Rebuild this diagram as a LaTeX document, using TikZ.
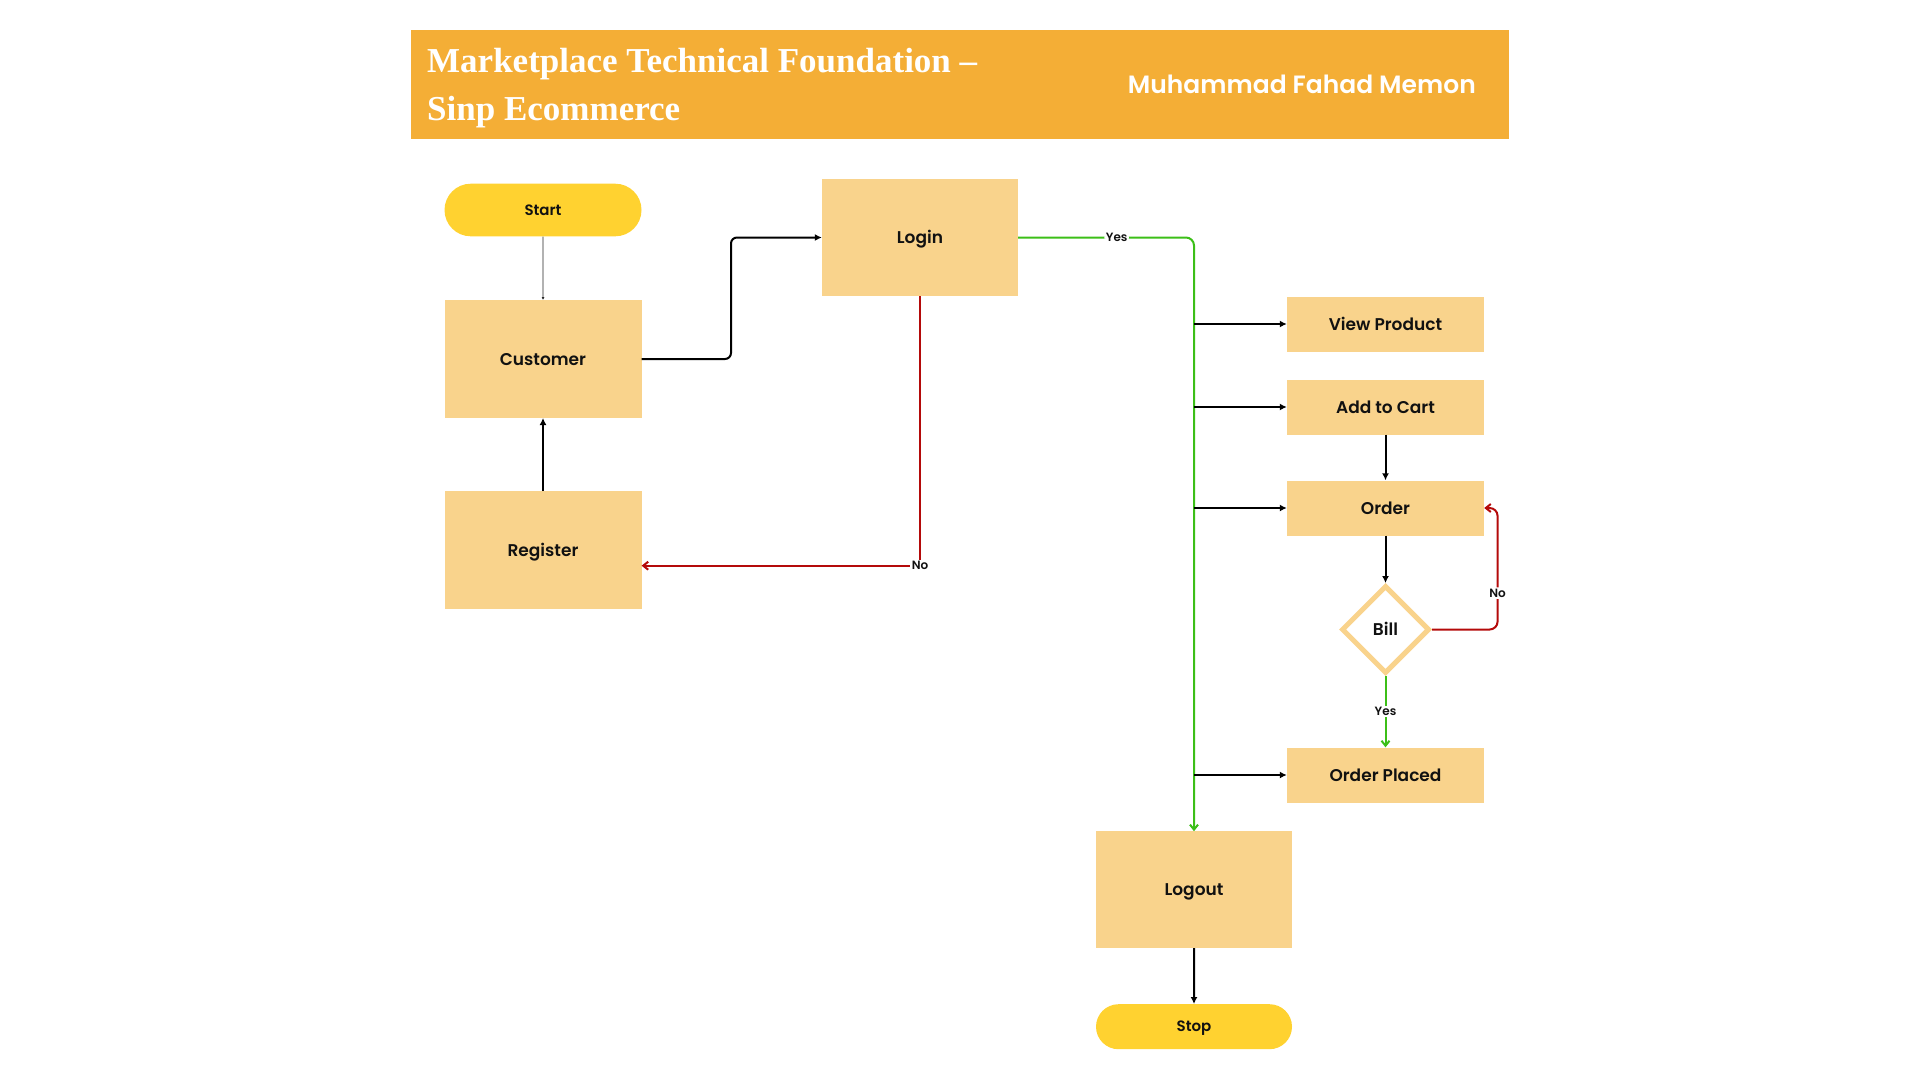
\documentclass[tikz,border=0pt]{standalone}
\usepackage{fontspec}
\setmainfont{Poppins}[BoldFont={Poppins SemiBold}]
\newfontfamily\titlefont{Liberation Serif}
\usetikzlibrary{arrows.meta,shapes.geometric,shapes.misc,calc}
\definecolor{headc}{HTML}{F4AE36}
\definecolor{boxc}{HTML}{F9D38C}
\definecolor{pillc}{HTML}{FFD230}
\definecolor{grnc}{HTML}{3CBF18}
\definecolor{redc}{HTML}{B40A0A}
\definecolor{txtc}{HTML}{111111}
\begin{document}
\begin{tikzpicture}[x=1pt,y=-1pt,
  box/.style={fill=boxc, minimum width=197pt, inner sep=0pt, text=txtc, text height=12pt, text depth=0pt, font=\bfseries\fontsize{17}{20}\selectfont},
  pill/.style={fill=pillc, rounded rectangle, minimum width=197pt, inner sep=0pt, text=txtc, text height=10.5pt, text depth=0pt, font=\bfseries\fontsize{15}{18}\selectfont},
  blk/.style={draw=black, line width=2pt, -{Latex[length=7pt,width=7pt]}},
  thinarr/.style={draw=black!85, line width=0.8pt, -{Latex[length=3pt,width=3pt]}},
  grn/.style={draw=grnc, line width=2pt, -{Straight Barb[length=5pt,width=8pt]}},
  redl/.style={draw=redc, line width=2pt, -{Straight Barb[length=5pt,width=8pt]}},
  lbl/.style={fill=white, inner sep=1.5pt, text=txtc, font=\bfseries\fontsize{12}{14}\selectfont}
]
\useasboundingbox (0,0) rectangle (1920,1080);
% header
\node[fill=headc, minimum width=1098pt, minimum height=109pt, inner sep=0pt] (header) at (960,84) {};
\node[anchor=base west, inner sep=0pt, text=white, font=\titlefont\bfseries\fontsize{35}{42}\selectfont] (t1) at (427,72) {Marketplace Technical Foundation –};
\node[anchor=base west, inner sep=0pt, text=white, font=\titlefont\bfseries\fontsize{35}{42}\selectfont] (t2) at (427,120) {Sinp Ecommerce};
\node[anchor=base east, inner sep=0pt, text=white, font=\bfseries\fontsize{25}{30}\selectfont] (author) at (1476,93) {Muhammad Fahad Memon};
% nodes
\node[pill, minimum height=52.6pt] (start) at (543,210) {Start};
\node[box, minimum height=117.6pt] (cust) at (543,359) {Customer};
\node[box, minimum height=117.6pt] (reg) at (543,550) {Register};
\node[box, minimum height=117.5pt, minimum width=196pt] (login) at (920,237.5) {Login};
\node[box, minimum height=55pt] (vp) at (1385.5,324) {View Product};
\node[box, minimum height=55pt] (cart) at (1385.5,407) {Add to Cart};
\node[box, minimum height=55pt] (order) at (1385.5,508) {Order};
\node[diamond, draw=boxc, line width=5pt, fill=white, minimum width=88pt, minimum height=88pt, inner sep=0pt, text=txtc, text height=12pt, text depth=0pt, font=\bfseries\fontsize{17}{20}\selectfont] (bill) at (1385.5,629.5) {Bill};
\node[box, minimum height=55pt] (op) at (1385.5,775) {Order Placed};
\node[box, minimum height=116.4pt, minimum width=196pt] (logout) at (1194,889.6) {Logout};
\node[pill, minimum height=45pt, minimum width=196pt] (stop) at (1194,1026.7) {Stop};
% coordinates
\coordinate (c1) at (731,359);
\coordinate (c2) at (731,237.5);
\coordinate (rc) at (920,565.7);
\coordinate (re) at (641.6,565.7);
\coordinate (gc) at (1194,237.5);
\coordinate (b1) at (1194,324);
\coordinate (b2) at (1194,407);
\coordinate (b3) at (1194,508);
\coordinate (b4) at (1194,775);
\coordinate (nc1) at (1497.6,629.5);
\coordinate (nc2) at (1497.6,508);
% connectors
\draw[thinarr] (start) -- (cust);
\draw[blk, rounded corners=6pt] (cust.east) -- (c1) -- (c2) -- (login.west);
\draw[blk] (reg) -- (cust);
\draw[redl] (login.south) -- (rc) -- (re);
\node[lbl] (no1) at (rc) {No};
\draw[grn, rounded corners=8pt] (login.east) -- node[lbl, pos=0.56] (yes1) {Yes} (gc) -- (logout.north);
\draw[blk] (b1) -- (vp.west);
\draw[blk] (b2) -- (cart.west);
\draw[blk] (b3) -- (order.west);
\draw[blk] (b4) -- (op.west);
\draw[blk] (cart) -- (order);
\draw[blk] (order) -- (bill);
\draw[redl, rounded corners=8pt] (bill.east) -- (nc1) -- node[lbl, pos=0.3] (no2) {No} (nc2) -- (order.east);
\draw[grn] (bill.south) -- node[lbl] (yes2) {Yes} (op.north);
\draw[blk] (logout) -- (stop);
\end{tikzpicture}
\end{document}
